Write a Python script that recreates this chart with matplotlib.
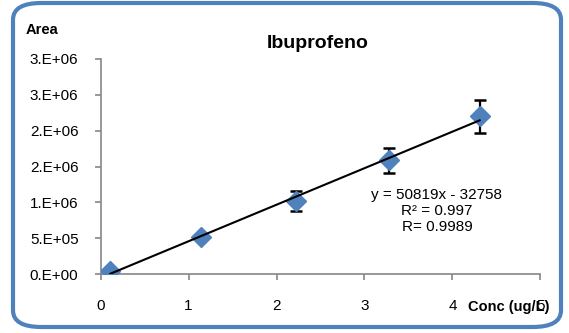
import matplotlib
matplotlib.use("Agg")
import matplotlib.pyplot as plt
import numpy as np
from matplotlib.patches import FancyBboxPatch

plt.rcParams['font.family'] = ['Liberation Sans', 'DejaVu Sans']

# Calibration data
conc = [0.11, 1.14, 2.22, 3.28, 4.31]
area = [46000, 521000, 1022000, 1585000, 2200000]
area_err = [0, 0, 137000, 170000, 228000]

x_ticks = [0, 1, 2, 3, 4, 5]
x_tick_labels = ["0", "1", "2", "3", "4", "5"]
y_ticks = [0, 500000, 1000000, 1500000, 2000000, 2500000, 3000000]
y_tick_labels = ["0.E+00", "5.E+05", "1.E+06", "2.E+06", "2.E+06", "3.E+06", "3.E+06"]

equation_lines = ["y = 50819x - 32758", "R\u00b2 = 0.997", "R= 0.9989"]

W, H = 569, 333
fig = plt.figure(figsize=(W / 100, H / 100), dpi=100)
fig.patch.set_facecolor("white")

# Rounded chart border
border = FancyBboxPatch((13 / W, 6 / H), (561 - 13) / W, (330 - 6) / H,
                        boxstyle="round,pad=0,rounding_size=0.05",
                        transform=fig.transFigure, facecolor="none",
                        edgecolor="#4F81BD", linewidth=3, zorder=0)
fig.patches.append(border)

ax = fig.add_axes([100.7 / W, 59 / H, (540.3 - 100.7) / W, (274 - 59) / H])
ax.set_xlim(0, 5)
ax.set_ylim(0, 3000000)

blue = "#4F81BD"
grey = "#868686"

ax.errorbar(conc, area, yerr=area_err, fmt="none", ecolor="black",
            elinewidth=1.6, capsize=4.2, capthick=1.8, zorder=2)
ax.plot(conc, area, linestyle="none", marker="D", markersize=10,
        color=blue, zorder=3)

# Linear trendline
slope, intercept = np.polyfit(conc, area, 1)
xs = np.array([conc[0], conc[-1]])
ax.plot(xs, slope * xs + intercept, color="black", linewidth=1.5, zorder=4)

for side in ("top", "right"):
    ax.spines[side].set_visible(False)
for side in ("left", "bottom"):
    ax.spines[side].set_color(grey)
    ax.spines[side].set_linewidth(1.2)

ax.set_xticks(x_ticks)
ax.set_xticklabels(x_tick_labels)
ax.set_yticks(y_ticks)
ax.set_yticklabels(y_tick_labels)
ax.tick_params(axis="both", colors=grey, labelcolor="black", labelsize=11,
               length=4, width=1.2, direction="out")
ax.tick_params(axis="y", pad=12)
ax.tick_params(axis="x", pad=14)

ax.text(0.765, 0.40, "\n".join(equation_lines), transform=ax.transAxes,
        ha="center", va="top", fontsize=11, linespacing=1.2,
        multialignment="center")

fig.text(318 / W, 1 - 44 / H, "Ibuprofeno", ha="center", va="center",
         fontsize=14, fontweight="bold")
fig.text(26 / W, 1 - 30 / H, "Area", ha="left", va="center",
         fontsize=10.5, fontweight="bold")
fig.text(550 / W, 1 - 307 / H, "Conc (ug/L)", ha="right", va="center",
         fontsize=10.5, fontweight="bold")

fig.savefig("out.png", dpi=100, facecolor="white")
